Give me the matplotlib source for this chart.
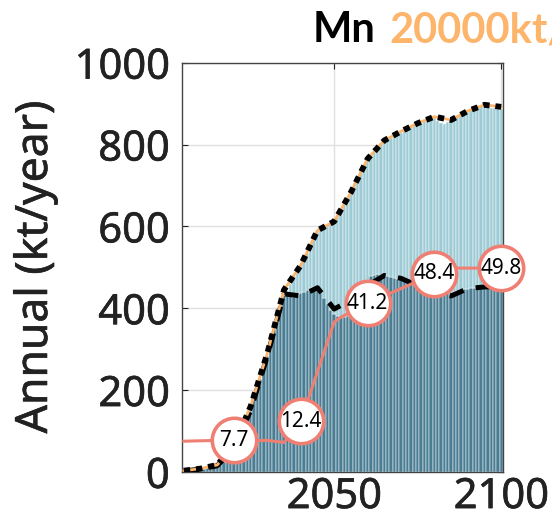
import matplotlib.pyplot as plt
import matplotlib.patheffects as pe

# annual bars (kt/year)
years = list(range(2005, 2101))
dark = [2, 3, 4, 5, 6, 7, 8, 9, 11, 13,
        16, 20, 24, 30, 42, 58, 75, 92, 108, 125,
        150, 175, 200, 228, 255, 283, 315, 350, 385, 415,
        430, 432, 430, 428, 432, 436, 440, 445, 450, 452,
        450, 440, 425, 410, 395, 385, 380, 378, 378, 380,
        385, 395, 410, 430, 455, 470, 478, 482, 483, 482,
        480, 478, 476, 474, 472, 470, 468, 466, 464, 460,
        455, 450, 446, 442, 440, 438, 436, 434, 434, 436,
        438, 440, 443, 445, 447, 448, 449, 450, 451, 452,
        452, 452, 452, 452, 452, 452]
total = [2, 3, 4, 5, 6, 7, 8, 9, 11, 13,
         16, 20, 24, 30, 42, 58, 75, 92, 108, 125,
         150, 175, 200, 228, 255, 283, 315, 350, 385, 415,
         435, 442, 460, 478, 492, 505, 515, 535, 555, 572,
         590, 597, 600, 603, 607, 615, 628, 640, 655, 672,
         688, 705, 720, 735, 750, 762, 775, 785, 795, 803,
         808, 813, 817, 821, 825, 829, 834, 838, 842, 846,
         850, 853, 857, 861, 865, 866, 858, 852, 850, 855,
         860, 865, 870, 874, 878, 882, 886, 890, 892, 893,
         893, 892, 890, 889, 888, 887]
light = [t - d for t, d in zip(total, dark)]

# scenario lines, 5-yearly
line_years = list(range(2005, 2101, 5))
total_line = [3, 8, 17, 65, 160, 290, 445, 505, 590, 612,
              683, 765, 810, 832, 852, 868, 860, 882, 897, 892]
dark_line = [2, 7, 15, 58, 150, 283, 435, 430, 450, 398,
             420, 455, 480, 473, 455, 440, 430, 448, 452, 453]

# share line (%), drawn x10 on the same axis
share_years = [2005, 2010, 2015, 2020, 2025, 2030, 2035, 2040, 2045, 2050,
               2052, 2060, 2070, 2080, 2085, 2090, 2095, 2100]
share = [7.5, 7.6, 7.7, 7.7, 7.6, 7.7, 7.2, 12.4, 24.5, 36.6,
         37.8, 41.2, 44.8, 48.4, 49.8, 49.8, 49.8, 49.8]
label_years = [2020, 2040, 2060, 2080, 2100]
labels = [7.7, 12.4, 41.2, 48.4, 49.8]

c_dark = "#4a7d93"
c_light = "#9ccbd5"
c_red = "#f07f73"
c_orange = "#fdb46b"

plt.rcParams['font.family'] = ['Noto Sans', 'DejaVu Sans']
heavy = [pe.withStroke(linewidth=0.45, foreground="#222222")]

fig = plt.figure(figsize=(5.52, 5.18), dpi=100)
ax = fig.add_axes([0.330, 0.089, 0.581, 0.790])

ax.bar(years, dark, width=1.0, color=c_dark, edgecolor="white", linewidth=0.35, zorder=2)
ax.bar(years, light, bottom=dark, width=1.0, color=c_light, edgecolor="white", linewidth=0.35, zorder=2)

ax.plot(line_years, dark_line, color="black", lw=3.6, linestyle=(0, (3.0, 2.5)), zorder=3)
ax.plot(line_years, total_line, color=c_orange, lw=2.0, zorder=3)
ax.plot(line_years, total_line, color="black", lw=4.2, linestyle=(0, (1.1, 1.0)), zorder=4)

ax.plot(share_years, [s * 10 for s in share], color=c_red, lw=2.2, zorder=5)
for yr, v in zip(label_years, labels):
    ax.plot(yr, v * 10, marker="o", ms=32, mfc="white", mec=c_red, mew=2.6,
            zorder=6, clip_on=False)
    ax.text(yr, v * 10, f"{v}", ha="center", va="center", fontsize=15,
            color="black", zorder=7, clip_on=False)

ax.set_xlim(2004.5, 2100.5)
ax.set_ylim(0, 1000)
ax.set_xticks([2050, 2100])
ax.set_yticks([0, 200, 400, 600, 800, 1000])
ax.tick_params(labelsize=30, colors="#222222", direction="in", length=4,
               top=True, right=True)
ax.tick_params(axis="x", pad=3)
ax.tick_params(axis="y", pad=9)
for lab in ax.get_xticklabels() + ax.get_yticklabels():
    lab.set_path_effects(heavy)
ax.grid(True, color="#e0e0e0", lw=1.0, zorder=0)
ax.set_axisbelow(True)
for s in ax.spines.values():
    s.set_color("#444444")
    s.set_linewidth(1.0)
ax.set_ylabel("Annual (kt/year)", fontsize=32, color="#222222", labelpad=12,
              path_effects=heavy)

fig.text(0.567, 0.905, "Mn", fontsize=30, fontweight="bold", color="black",
         family=["Lato", "DejaVu Sans"], ha="left", va="bottom")
fig.text(0.706, 0.905, "20000kt/", fontsize=30, fontweight="bold", color=c_orange,
         family=["Lato", "DejaVu Sans"], ha="left", va="bottom")

fig.savefig("out.png", dpi=100)
